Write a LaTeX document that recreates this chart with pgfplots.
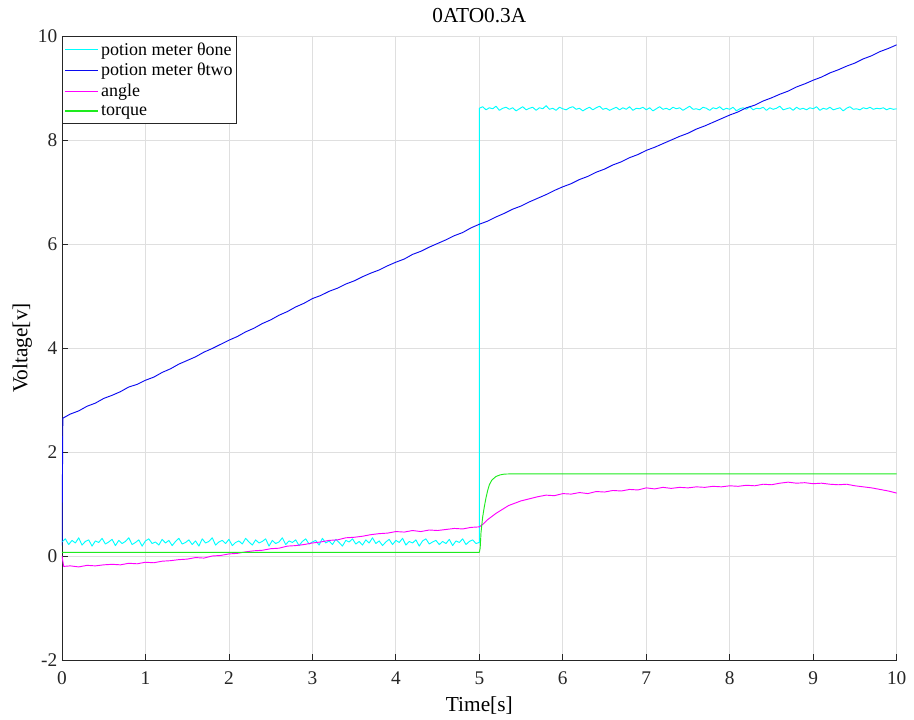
\documentclass[border=0pt]{standalone}
\usepackage{fontspec}
\setmainfont{Liberation Serif}
\usepackage{pgfplots}
\pgfplotsset{compat=1.18}

\definecolor{mcyan}{RGB}{0,255,255}
\definecolor{mblue}{RGB}{10,10,240}
\definecolor{mmag}{RGB}{255,0,255}
\definecolor{mgreen}{RGB}{30,235,30}
\definecolor{axgray}{RGB}{38,38,38}
\definecolor{gridgray}{RGB}{223,223,223}

\begin{document}
\begin{tikzpicture}
\begin{axis}[
    scale only axis,
    width=626pt, height=468pt,
    xmin=0, xmax=10, ymin=-2, ymax=10,
    xtick={0,1,...,10}, ytick={-2,0,2,4,6,8,10},
    axis lines*=left,
    axis line style={-, axgray, line width=0.6pt},
    tick align=inside,
    major tick length=4.5pt,
    tick style={axgray, line width=0.6pt},
    grid=major,
    major grid style={gridgray, line width=0.6pt},
    /pgf/number format/assume math mode=true,
    ticklabel style={font=\fontsize{14.5}{16}\selectfont, text=axgray},
    xticklabel style={yshift=-5pt},
    title={0ATO0.3A},
    title style={font=\fontsize{16}{18}\selectfont, at={(axis description cs:0.5,1.0192)}, anchor=center},
    xlabel={Time[s]},
    ylabel={Voltage[v]},
    label style={font=\fontsize{16}{18}\selectfont},
    xlabel style={at={(axis description cs:0.5,-0.0735)}, anchor=center},
    ylabel style={at={(axis description cs:-0.0475,0.5)}, anchor=center},
    legend style={at={(0,1)}, anchor=north west, draw=axgray, line width=0.6pt,
        font=\fontsize{13.5}{15}\selectfont, inner xsep=1.5pt, inner ysep=3pt,
        row sep=1.5pt, nodes={inner sep=1.6pt}, cells={anchor=west}},
    legend cell align=left,
    legend image code/.code={\draw[#1, line width=0.9pt] (0pt,0pt) -- (25pt,0pt);},
    every axis plot/.append style={line width=0.7pt, line join=round},
]
\coordinate (o) at (rel axis cs:0,0);

% potion meter theta one
\addplot[color=mcyan] coordinates {
(0.00,0.27)(0.04,0.33)(0.08,0.22)(0.12,0.30)(0.16,0.25)(0.20,0.35)(0.24,0.21)(0.28,0.28)(0.32,0.31)(0.36,0.19)
(0.40,0.29)(0.44,0.26)(0.48,0.34)(0.52,0.23)(0.56,0.27)(0.60,0.32)(0.64,0.20)(0.68,0.30)(0.72,0.24)(0.76,0.28)
(0.80,0.35)(0.84,0.22)(0.88,0.26)(0.92,0.31)(0.96,0.19)(1.00,0.29)(1.04,0.33)(1.08,0.24)(1.12,0.27)(1.16,0.21)
(1.20,0.32)(1.24,0.25)(1.28,0.30)(1.32,0.20)(1.36,0.28)(1.40,0.34)(1.44,0.23)(1.48,0.26)(1.52,0.31)(1.56,0.22)
(1.60,0.29)(1.64,0.19)(1.68,0.33)(1.72,0.25)(1.76,0.28)(1.80,0.35)(1.84,0.21)(1.88,0.27)(1.92,0.30)(1.96,0.24)
(2.00,0.32)(2.04,0.20)(2.08,0.26)(2.12,0.29)(2.16,0.23)(2.20,0.34)(2.24,0.27)(2.28,0.21)(2.32,0.31)(2.36,0.25)
(2.40,0.28)(2.44,0.33)(2.48,0.19)(2.52,0.30)(2.56,0.24)(2.60,0.27)(2.64,0.35)(2.68,0.22)(2.72,0.29)(2.76,0.26)
(2.80,0.31)(2.84,0.20)(2.88,0.28)(2.92,0.33)(2.96,0.23)(3.00,0.27)(3.04,0.30)(3.08,0.21)(3.12,0.34)(3.16,0.25)
(3.20,0.29)(3.24,0.22)(3.28,0.32)(3.32,0.26)(3.36,0.19)(3.40,0.30)(3.44,0.27)(3.48,0.33)(3.52,0.23)(3.56,0.28)
(3.60,0.21)(3.64,0.31)(3.68,0.25)(3.72,0.35)(3.76,0.24)(3.80,0.29)(3.84,0.20)(3.88,0.27)(3.92,0.32)(3.96,0.22)
(4.00,0.30)(4.04,0.26)(4.08,0.34)(4.12,0.21)(4.16,0.28)(4.20,0.25)(4.24,0.31)(4.28,0.19)(4.32,0.29)(4.36,0.33)
(4.40,0.23)(4.44,0.27)(4.48,0.30)(4.52,0.22)(4.56,0.28)(4.60,0.24)(4.64,0.32)(4.68,0.20)(4.72,0.29)(4.76,0.26)
(4.80,0.33)(4.84,0.22)(4.88,0.28)(4.92,0.31)(4.96,0.24)(5.00,0.26)(5.00,8.61)
(5.04,8.64)(5.08,8.58)(5.12,8.62)(5.16,8.60)(5.20,8.65)(5.24,8.57)(5.28,8.61)(5.32,8.63)(5.36,8.59)(5.40,8.62)
(5.44,8.56)(5.48,8.60)(5.52,8.64)(5.56,8.58)(5.60,8.61)(5.64,8.63)(5.68,8.57)(5.72,8.62)(5.76,8.60)(5.80,8.66)
(5.84,8.59)(5.88,8.61)(5.92,8.57)(5.96,8.63)(6.00,8.60)(6.04,8.58)(6.08,8.62)(6.12,8.64)(6.16,8.59)(6.20,8.61)
(6.24,8.56)(6.28,8.60)(6.32,8.63)(6.36,8.58)(6.40,8.62)(6.44,8.65)(6.48,8.59)(6.52,8.61)(6.56,8.57)(6.60,8.60)
(6.64,8.63)(6.68,8.58)(6.72,8.62)(6.76,8.59)(6.80,8.64)(6.84,8.57)(6.88,8.61)(6.92,8.60)(6.96,8.63)(7.00,8.58)
(7.04,8.62)(7.08,8.56)(7.12,8.60)(7.16,8.64)(7.20,8.59)(7.24,8.61)(7.28,8.58)(7.32,8.63)(7.36,8.60)(7.40,8.62)
(7.44,8.57)(7.48,8.61)(7.52,8.65)(7.56,8.59)(7.60,8.60)(7.64,8.58)(7.68,8.63)(7.72,8.61)(7.76,8.57)(7.80,8.62)
(7.84,8.60)(7.88,8.64)(7.92,8.58)(7.96,8.61)(8.00,8.59)(8.04,8.63)(8.08,8.56)(8.12,8.60)(8.16,8.62)(8.20,8.59)
(8.24,8.64)(8.28,8.58)(8.32,8.61)(8.36,8.60)(8.40,8.63)(8.44,8.57)(8.48,8.62)(8.52,8.59)(8.56,8.61)(8.60,8.65)
(8.64,8.58)(8.68,8.60)(8.72,8.62)(8.76,8.57)(8.80,8.63)(8.84,8.59)(8.88,8.61)(8.92,8.58)(8.96,8.62)(9.00,8.60)
(9.04,8.64)(9.08,8.57)(9.12,8.61)(9.16,8.59)(9.20,8.63)(9.24,8.58)(9.28,8.60)(9.32,8.62)(9.36,8.56)(9.40,8.61)
(9.44,8.64)(9.48,8.59)(9.52,8.60)(9.56,8.58)(9.60,8.62)(9.64,8.60)(9.68,8.63)(9.72,8.59)(9.76,8.61)(9.80,8.60)
(9.84,8.62)(9.88,8.58)(9.92,8.61)(9.96,8.59)(10.00,8.60)
};
\addlegendentry{potion meter θone}

% potion meter theta two
\addplot[color=mblue] coordinates {
(0.00,0.20)(0.01,2.65)
(0.1,2.73)(0.2,2.79)(0.3,2.88)(0.4,2.94)(0.5,3.03)(0.6,3.09)(0.7,3.16)(0.8,3.25)(0.9,3.30)(1.0,3.38)
(1.1,3.44)(1.2,3.53)(1.3,3.60)(1.4,3.69)(1.5,3.76)(1.6,3.83)(1.7,3.92)(1.8,3.99)(1.9,4.07)(2.0,4.15)
(2.1,4.22)(2.2,4.31)(2.3,4.38)(2.4,4.47)(2.5,4.54)(2.6,4.63)(2.7,4.70)(2.8,4.79)(2.9,4.86)(3.0,4.95)
(3.1,5.01)(3.2,5.09)(3.3,5.15)(3.4,5.23)(3.5,5.29)(3.6,5.37)(3.7,5.44)(3.8,5.50)(3.9,5.58)(4.0,5.65)
(4.1,5.71)(4.2,5.80)(4.3,5.86)(4.4,5.94)(4.5,6.01)(4.6,6.08)(4.7,6.16)(4.8,6.22)(4.9,6.31)(5.0,6.38)
(5.1,6.44)(5.2,6.52)(5.3,6.59)(5.4,6.67)(5.5,6.73)(5.6,6.81)(5.7,6.88)(5.8,6.95)(5.9,7.03)(6.0,7.10)
(6.1,7.16)(6.2,7.24)(6.3,7.30)(6.4,7.38)(6.5,7.44)(6.6,7.52)(6.7,7.58)(6.8,7.66)(6.9,7.72)(7.0,7.80)
(7.1,7.86)(7.2,7.93)(7.3,8.00)(7.4,8.07)(7.5,8.13)(7.6,8.21)(7.7,8.27)(7.8,8.34)(7.9,8.41)(8.0,8.48)
(8.1,8.54)(8.2,8.62)(8.3,8.67)(8.4,8.75)(8.5,8.81)(8.6,8.88)(8.7,8.94)(8.8,9.02)(8.9,9.08)(9.0,9.15)
(9.1,9.21)(9.2,9.29)(9.3,9.35)(9.4,9.42)(9.5,9.48)(9.6,9.56)(9.7,9.62)(9.8,9.70)(9.9,9.76)(10.0,9.83)
};
\addlegendentry{potion meter θtwo}

% angle
\addplot[color=mmag] coordinates {
(0.00,0.00)(0.02,-0.20)(0.1,-0.19)(0.2,-0.21)(0.3,-0.18)(0.4,-0.19)(0.5,-0.17)(0.6,-0.16)(0.7,-0.17)(0.8,-0.14)(0.9,-0.15)
(1.0,-0.12)(1.1,-0.13)(1.2,-0.10)(1.3,-0.09)(1.4,-0.07)(1.5,-0.06)(1.6,-0.03)(1.7,-0.04)(1.8,0.00)(1.9,0.01)
(2.0,0.04)(2.1,0.05)(2.2,0.08)(2.3,0.10)(2.4,0.11)(2.5,0.14)(2.6,0.15)(2.7,0.19)(2.8,0.20)(2.9,0.22)
(3.0,0.25)(3.1,0.27)(3.2,0.30)(3.3,0.31)(3.4,0.35)(3.5,0.36)(3.6,0.38)(3.7,0.41)(3.8,0.43)(3.9,0.44)
(4.0,0.47)(4.1,0.46)(4.2,0.49)(4.3,0.47)(4.4,0.50)(4.5,0.49)(4.6,0.51)(4.7,0.53)(4.8,0.52)(4.9,0.55)
(5.0,0.56)(5.05,0.62)(5.1,0.70)(5.15,0.76)(5.2,0.82)(5.25,0.87)(5.3,0.92)(5.35,0.97)(5.4,1.00)(5.5,1.06)
(5.6,1.10)(5.7,1.14)(5.8,1.17)(5.9,1.16)(6.0,1.20)(6.1,1.19)(6.2,1.22)(6.3,1.20)(6.4,1.24)(6.5,1.23)
(6.6,1.26)(6.7,1.25)(6.8,1.28)(6.9,1.27)(7.0,1.31)(7.1,1.29)(7.2,1.32)(7.3,1.30)(7.4,1.32)(7.5,1.31)
(7.6,1.33)(7.7,1.32)(7.8,1.34)(7.9,1.33)(8.0,1.35)(8.1,1.34)(8.2,1.36)(8.3,1.35)(8.4,1.38)(8.5,1.37)
(8.6,1.40)(8.7,1.42)(8.8,1.40)(8.9,1.41)(9.0,1.39)(9.1,1.40)(9.2,1.38)(9.3,1.37)(9.4,1.38)(9.5,1.35)
(9.6,1.33)(9.7,1.31)(9.8,1.28)(9.9,1.25)(10.0,1.21)
};
\addlegendentry{angle}

% torque
\addplot[color=mgreen] coordinates {
(0.00,0.07)(5.00,0.07)(5.01,0.15)(5.02,0.45)(5.04,0.75)(5.06,0.95)(5.08,1.12)(5.10,1.26)
(5.12,1.37)(5.15,1.46)(5.20,1.53)(5.25,1.56)(5.30,1.575)(5.40,1.58)(10.00,1.58)
};
\addlegendentry{torque}
\end{axis}
\path (o) ++(-46.5pt,-45pt) rectangle ++(685.5pt,540pt);
\end{tikzpicture}
\end{document}
